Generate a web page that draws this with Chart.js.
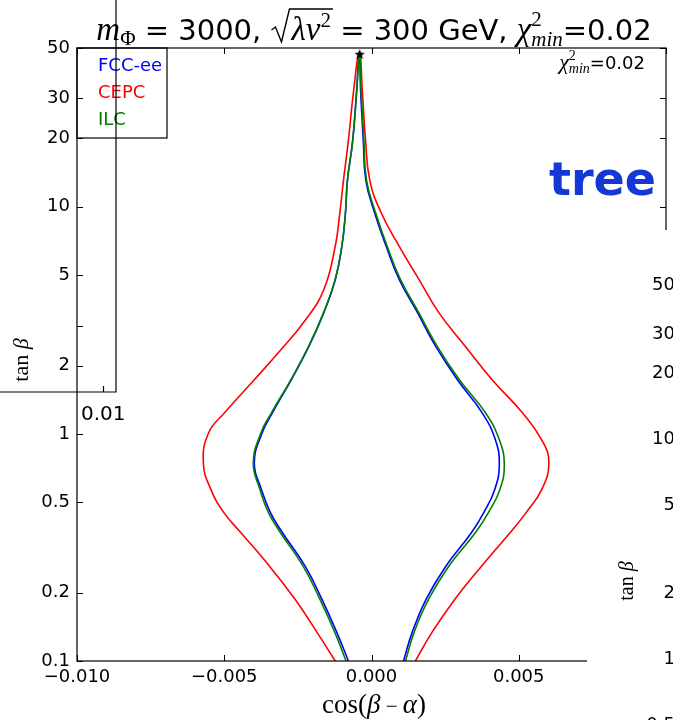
<!DOCTYPE html>
<html>
<head>
<meta charset="utf-8">
<script src="https://cdn.jsdelivr.net/npm/chart.js@4.4.1/dist/chart.umd.min.js"></script>
<style>
  html, body { margin: 0; padding: 0; background: #fff; }
  #wrap { width: 673px; height: 720px; position: relative; }
</style>
</head>
<body>
<div id="wrap"><canvas id="c" width="673" height="720"></canvas></div>
<script>
// contour of chi2 = chi2_min for each collider, left branch bottom->top, then right branch top->bottom
const cepcX = [-0.00123, -0.00185, -0.00259, -0.0036, -0.004441, -0.005013, -0.00545, -0.00571, -0.00553, -0.00499,
  -0.00398, -0.003085, -0.002244, -0.001625, -0.001235, -0.001077, -0.000952, -0.000784, -0.000606, -0.00041,
  -0.000313, -0.000202, -0.000057, 0.000336, 0.000952, 0.001625, 0.002298, 0.003196, 0.004095, 0.005125,
  0.005777, 0.006023, 0.005777, 0.005249, 0.00471, 0.003735, 0.002826, 0.002053, 0.001491];
const cepcY = [0.1, 0.1337, 0.1867, 0.275, 0.368, 0.450, 0.568, 0.746, 1.011, 1.238,
  1.73, 2.34, 3.17, 4.30, 6.66, 9.36, 13.07, 19.6, 32.5, 48,
  32.5, 19.6, 13.07, 9.36, 6.66, 4.75, 3.40, 2.42, 1.73, 1.238,
  0.942, 0.746, 0.568, 0.450, 0.368, 0.2615, 0.1867, 0.1337, 0.1];

const fccX = [-0.000784, -0.001178, -0.001682, -0.002254, -0.003028, -0.003432, -0.003735, -0.00398, -0.003712, -0.003365,
  -0.002725, -0.00213, -0.001625, -0.001235, -0.001009, -0.000885, -0.000818, -0.000639, -0.000505, -0.00041,
  -0.00037, -0.000279, -0.000192, 0.000111, 0.000505, 0.000952, 0.001571, 0.002187, 0.002917, 0.003758,
  0.004206, 0.00434, 0.004182, 0.003812, 0.003398, 0.002524, 0.001851, 0.00138, 0.001087];
const fccY = [0.1, 0.1337, 0.1867, 0.2615, 0.368, 0.450, 0.568, 0.746, 1.011, 1.238,
  1.73, 2.42, 3.40, 4.75, 6.66, 9.36, 13.07, 19.6, 32.5, 48,
  32.5, 19.6, 13.07, 9.36, 6.66, 4.75, 3.40, 2.42, 1.73, 1.238,
  0.942, 0.731, 0.568, 0.450, 0.368, 0.2615, 0.1867, 0.1337, 0.1];

const ilcX = [-0.000865, -0.001245, -0.00175, -0.002322, -0.003096, -0.003499, -0.003785, -0.004014, -0.003753, -0.003398,
  -0.00274, -0.00214, -0.001635, -0.00124, -0.00101, -0.000885, -0.000815, -0.000635, -0.0005, -0.00041,
  -0.000353, -0.000259, -0.000168, 0.000145, 0.000538, 0.000993, 0.001615, 0.002237, 0.002984, 0.00387,
  0.004341, 0.004509, 0.004357, 0.00397, 0.003533, 0.002624, 0.001935, 0.001447, 0.001154];
const ilcY = fccY;

const starX = [-0.0004];
const starY = [46.8];

const xTicks = [-0.01, -0.005, 0, 0.005, 0.01];
const xTickLabels = ['\u22120.010', '\u22120.005', '0.000', '0.005', ''];
const yTicks = [0.1, 0.2, 0.5, 1, 2, 5, 10, 20, 30, 50];
const yTickLabels = ['0.1', '0.2', '0.5', '1', '2', '5', '10', '20', '30', '50'];
const yTickMarks = [0.1, 0.2, 0.5, 1, 2, 3, 5, 10, 20, 30, 50];
const legendNames = ['FCC-ee', 'CEPC', 'ILC'];
const legendColors = ['#0000ff', '#ff0000', '#008000'];
// labels of the neighbouring panel that sticks in on the right
const sideLabels = ['50', '30', '20', '10', '5', '2', '1', '0.5'];

const SANS = '"DejaVu Sans", sans-serif';
const SERIF = '"Liberation Serif", "DejaVu Serif", serif';

function pts(xs, ys) { return xs.map((x, i) => ({ x: x, y: ys[i] })); }

function starImage(r) {
  const c = document.createElement('canvas');
  c.width = c.height = 2 * r + 2;
  const g = c.getContext('2d');
  g.beginPath();
  for (let i = 0; i < 10; i++) {
    const a = -Math.PI / 2 + i * Math.PI / 5;
    const rr = i % 2 ? r * 0.42 : r;
    g.lineTo(r + 1 + rr * Math.cos(a), r + 1 + rr * Math.sin(a));
  }
  g.closePath();
  g.fillStyle = '#000';
  g.fill();
  return c;
}

function layoutRuns(ctx, runs) {
  let x = 0; const pos = [];
  runs.forEach(r => {
    if (r.f) ctx.font = r.f;
    const w = r.w != null ? r.w : ctx.measureText(r.t).width;
    pos.push(x);
    if (!r.noAdv) x += w;
  });
  return { pos: pos, width: x };
}

function drawRuns(ctx, runs, x, y, align) {
  const lay = layoutRuns(ctx, runs);
  const x0 = align === 'center' ? x - lay.width / 2 : (align === 'right' ? x - lay.width : x);
  let radStart = null;
  ctx.textAlign = 'left';
  ctx.textBaseline = 'alphabetic';
  runs.forEach((r, i) => {
    const px = x0 + lay.pos[i];
    if (r.rad) { radStart = px; return; }
    ctx.font = r.f;
    ctx.fillText(r.t, px, y + (r.dy || 0));
    if (r.radEnd && radStart != null) {
      const end = px + ctx.measureText(r.t).width + 2;
      ctx.beginPath();
      ctx.moveTo(radStart + 1, y - 10);
      ctx.lineTo(radStart + 5, y - 13);
      ctx.lineTo(radStart + 11, y + 2);
      ctx.lineTo(radStart + 19, y - 31);
      ctx.lineTo(end, y - 31);
      ctx.lineWidth = 1.4;
      ctx.stroke();
    }
  });
}

const decor = {
  id: 'decor',
  afterDraw(chart) {
    const ctx = chart.ctx;
    const a = chart.chartArea;
    const xs = chart.scales.x, ys = chart.scales.y;
    ctx.save();
    ctx.strokeStyle = '#000';
    ctx.fillStyle = '#000';

    // axes box
    ctx.lineWidth = 1.2;
    ctx.strokeRect(a.left, a.top, a.right - a.left, a.bottom - a.top);

    // inward ticks
    ctx.lineWidth = 1;
    ctx.beginPath();
    xTicks.forEach(v => {
      const px = Math.round(xs.getPixelForValue(v)) + 0.5;
      ctx.moveTo(px, a.bottom); ctx.lineTo(px, a.bottom - 6);
      ctx.moveTo(px, a.top); ctx.lineTo(px, a.top + 6);
    });
    yTickMarks.forEach(v => {
      const py = Math.round(ys.getPixelForValue(v)) + 0.5;
      ctx.moveTo(a.left, py); ctx.lineTo(a.left + 6, py);
      ctx.moveTo(a.right, py); ctx.lineTo(a.right - 6, py);
    });
    ctx.stroke();

    // legend (text only, matplotlib style)
    ctx.lineWidth = 1.2;
    ctx.strokeRect(a.left, a.top, 90, 90);
    ctx.font = '18px ' + SANS;
    ctx.textAlign = 'left';
    ctx.textBaseline = 'alphabetic';
    legendNames.forEach((n, i) => {
      ctx.fillStyle = legendColors[i];
      ctx.fillText(n, a.left + 21, a.top + 23 + i * 27);
    });

    // small chi2 note, top right
    ctx.fillStyle = '#000';
    drawRuns(ctx, [
      { t: '\u03c7', f: 'italic 22px ' + SERIF },
      { t: '2', f: '14px ' + SERIF, dy: -9, noAdv: true },
      { t: 'min', f: 'italic 14px ' + SERIF, dy: 4 },
      { t: '=0.02', f: '18px ' + SANS }
    ], 645, 69, 'right');

    // "tree" tag
    ctx.fillStyle = '#1438d6';
    ctx.font = 'bold 46px ' + SANS;
    ctx.textAlign = 'right';
    ctx.fillText('tree', 656, 195);

    // title
    ctx.fillStyle = '#000';
    drawRuns(ctx, [
      { t: 'm', f: 'italic 33px ' + SERIF },
      { t: '\u03a6', f: '21px ' + SERIF, dy: 5 },
      { t: ' = 3000, ', f: '29px ' + SANS },
      { rad: true, w: 21 },
      { t: '\u03bbv', f: 'italic 33px ' + SERIF },
      { t: '2', f: '21px ' + SERIF, dy: -13, radEnd: true },
      { t: ' = 300 GeV, ', f: '29px ' + SANS },
      { t: '\u03c7', f: 'italic 33px ' + SERIF },
      { t: '2', f: '21px ' + SERIF, dy: -14, noAdv: true },
      { t: 'min', f: 'italic 21px ' + SERIF, dy: 6 },
      { t: '=0.02', f: '29px ' + SANS }
    ], 374, 40, 'center');

    // axis titles
    drawRuns(ctx, [
      { t: 'cos(', f: '27px ' + SERIF },
      { t: '\u03b2', f: 'italic 27px ' + SERIF },
      { t: ' \u2212 ', f: '21px ' + SERIF },
      { t: '\u03b1', f: 'italic 27px ' + SERIF },
      { t: ')', f: '27px ' + SERIF }
    ], 374, 713, 'center');
    ctx.save();
    ctx.translate(28, 360);
    ctx.rotate(-Math.PI / 2);
    drawRuns(ctx, [
      { t: 'tan ', f: '22px ' + SERIF },
      { t: '\u03b2', f: 'italic 22px ' + SERIF }
    ], 0, 0, 'center');
    ctx.restore();

    // neighbouring panel pasted over the lower right corner
    ctx.fillStyle = '#fff';
    ctx.fillRect(587, 230, 86, 490);
    ctx.fillStyle = '#000';
    ctx.font = '18px ' + SANS;
    ctx.textAlign = 'right';
    const sideY = [283, 332, 371, 437, 503, 591, 657, 723];
    sideLabels.forEach((s, i) => ctx.fillText(s, 675, sideY[i] + 6.5));
    ctx.save();
    ctx.translate(633, 581);
    ctx.rotate(-Math.PI / 2);
    drawRuns(ctx, [
      { t: 'tan ', f: '20px ' + SERIF },
      { t: '\u03b2', f: 'italic 20px ' + SERIF }
    ], 0, 0, 'center');
    ctx.restore();

    // corner of another panel on the left
    ctx.strokeStyle = '#000';
    ctx.lineWidth = 1.2;
    ctx.beginPath();
    ctx.moveTo(116, 0); ctx.lineTo(116, 392); ctx.lineTo(0, 392);
    ctx.moveTo(103.5, 392); ctx.lineTo(103.5, 386);
    ctx.stroke();
    ctx.font = '20px ' + SANS;
    ctx.textAlign = 'left';
    ctx.fillText('0.01', 81, 420);

    ctx.restore();
  }
};

const lineDs = (label, xs, ys, color, order) => ({
  label: label, data: pts(xs, ys), showLine: true, borderColor: color, backgroundColor: color,
  borderWidth: 1.6, pointRadius: 0, tension: 0.45, fill: false, order: order
});

new Chart(document.getElementById('c').getContext('2d'), {
  type: 'scatter',
  data: {
    datasets: [
      { label: 'min', data: pts(starX, starY), pointStyle: starImage(5.5), pointRadius: 6, order: 0 },
      lineDs('ILC', ilcX, ilcY, '#008000', 1),
      lineDs('CEPC', cepcX, cepcY, '#ff0000', 2),
      lineDs('FCC-ee', fccX, fccY, '#0000ff', 3)
    ]
  },
  options: {
    responsive: false,
    animation: false,
    devicePixelRatio: 1,
    layout: { padding: { top: 48, right: 2, left: 0, bottom: 0 } },
    plugins: { legend: { display: false }, tooltip: { enabled: false } },
    scales: {
      x: {
        type: 'linear', min: -0.01, max: 0.01,
        grid: { display: false, drawTicks: false },
        border: { display: false },
        afterBuildTicks: s => { s.ticks = xTicks.map(v => ({ value: v })); },
        afterFit: s => { s.height = 59; s.paddingLeft = 0; s.paddingRight = 0; },
        ticks: {
          autoSkip: false, maxRotation: 0, padding: 6, color: '#000',
          font: { family: 'DejaVu Sans', size: 18 },
          callback: v => xTickLabels[xTicks.indexOf(v)] ?? ''
        }
      },
      y: {
        type: 'logarithmic', min: 0.1, max: 50,
        grid: { display: false, drawTicks: false },
        border: { display: false },
        afterBuildTicks: s => { s.ticks = yTicks.map(v => ({ value: v })); },
        afterFit: s => { s.width = 77; },
        ticks: {
          autoSkip: false, padding: 7, color: '#000',
          font: { family: 'DejaVu Sans', size: 18 },
          callback: v => yTickLabels[yTicks.indexOf(v)] ?? ''
        }
      }
    }
  },
  plugins: [decor]
});
</script>
</body>
</html>
